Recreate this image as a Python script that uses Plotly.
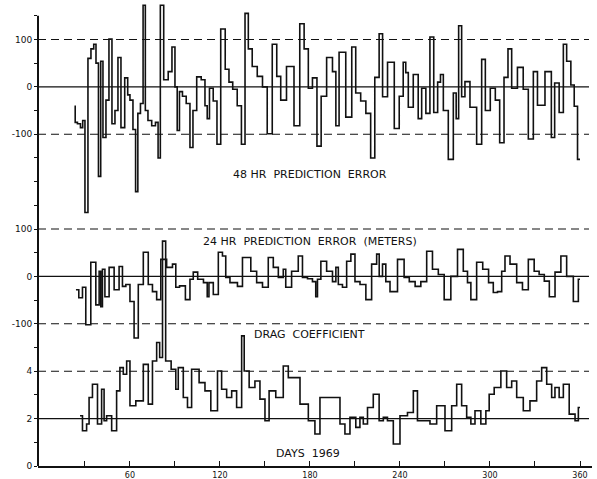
import plotly.graph_objects as go

# 48 hr prediction error (meters) by day of 1969
err48_day = [23, 24, 26, 28, 29, 31, 33, 35, 36.7, 38, 40, 41, 43, 45, 47, 49, 51, 53, 55, 58, 59, 61, 63, 64.5,
             66, 68, 69.5, 71, 73, 76, 78, 79.5, 81, 84, 87, 89, 91, 92, 94, 96, 99, 101, 103, 106, 109, 111, 112,
             114, 117, 119, 122, 125, 127, 130, 133, 135.6, 137.8, 140, 143, 146.7, 150, 153, 156.7, 159, 162,
             166.7, 172, 174.4, 177.8, 180, 183.3, 186, 188.9, 193.3, 196.7, 197.8, 201, 206.7, 209, 212, 215.6,
             218.9, 222, 224.4, 227.8, 229, 234.4, 238, 241, 243.3, 244.4, 246.7, 251, 253.3, 255.6, 258.9, 261,
             264, 266.2, 267.8, 270, 274.4, 276.7, 278.2, 280, 282.2, 284.4, 288.9, 293.3, 295.6, 298.2, 302.2,
             304.9, 308, 310.7, 313.3, 315.6, 321, 323.3, 327.8, 330, 333.3, 340, 341.8, 344.4, 347.8, 350, 352.2,
             355.6, 356.7, 360]
err48_val = [-41, -75, -78, -86, -71, -265, 60, 80, 90, 50, -189, 54, -107, -28, 101, -78, -50, 62, -86, 19, -17,
             -28, -90, -221, -56, -35, 172, -50, -71, -82, -75, -150, 172, 15, 32, 84, 0, -92, -10, -20, -35, -128,
             -50, 21, 15, -40, -67, -3, -30, -121, 122, 37, 10, -5, -40, -121, 155, 80, 43, 22, 0, -99, 90, 22,
             -28, 43, -82, 133, 80, -3, 19, -125, -20, 62, 32, -82, 73, -64, 84, -13, -30, -56, -150, 20, 112, -21,
             52, -88, -20, 52, 30, -43, 26, -67, -3, -56, 105, -54, 10, 26, -50, -153, -13, -67, 129, -21, 11, -43,
             -121, 58, -50, -3, -28, -118, 20, 80, -3, 41, -5, -110, 32, -39, 32, -107, 8, -54, 90, 54, 4, -41,
             -153, -35]

# 24 hr prediction error (meters)
err24_day = [24, 27.8, 28.9, 32.2, 35.6, 38.9, 40, 41.1, 42.2, 44.4, 47.8, 51.1, 54.4, 55.6, 58.9, 61.1, 64.4, 66.7,
             71.1, 73.3, 76.7, 78.9, 82.2, 86.7, 90, 91.1, 95, 98.9, 101.1, 103.3, 107, 111, 112, 113.3, 117.8, 120,
             123.3, 124.4, 128.9, 134.4, 135.6, 138.9, 142.2, 146.7, 150, 154.4, 156.7, 161.1, 163.3, 164.4, 171.1,
             173.3, 176.7, 180, 183.3, 184.4, 185.6, 188.9, 193.3, 196.7, 197.8, 200, 203.3, 205.6, 208.9, 211.1,
             215.6, 218.9, 223.3, 225.6, 226.7, 230, 231.1, 235.6, 241.1, 244.4, 248, 252.2, 255.6, 260, 263.3,
             267.8, 271.1, 276.7, 280, 284.4, 285.6, 288.9, 293.3, 297, 301.1, 303.3, 306.7, 308.9, 311.1, 315.6,
             320, 323.3, 327.8, 331.1, 334.4, 338, 341.1, 345.6, 348.9, 353.3, 357.8, 360]
err24_val = [-28, -45, -23, -102, 30, -60, 11, -64, 15, -43, 19, -28, 21, -21, -17, -53, -130, -17, 51, -17, -32,
             -49, 36, 19, 26, -23, -20, -49, -6, 9, -6, -13, -43, -13, -38, 51, 43, -2, -13, -21, 40, 40, 11, -13,
             -23, 40, 19, -2, 15, -23, 11, 43, -2, -5, -11, -43, -6, 32, 11, -11, 19, -17, -23, 32, 47, -11, -17,
             -49, 26, 47, 0, 26, -11, -32, 36, -2, -11, -21, -11, 53, 15, 4, -49, 0, 57, 11, -13, -49, 30, 15, -13,
             -34, -32, 11, 43, 26, -13, -28, 36, 11, 4, -10, -43, 9, 43, 0, -53, -6]

# Drag coefficient
drag_day = [26.7, 30, 32.2, 33.3, 36.7, 40, 42.2, 43.3, 45.6, 50, 52.2, 54.4, 56.7, 58.9, 61.1, 66.7, 71.1, 73.3,
            76.7, 78.9, 80.7, 82.7, 84.9, 90, 91.1, 93.3, 97.8, 98.9, 103.3, 108.9, 111.1, 116.7, 120, 122.2, 126.7,
            128.9, 133.3, 135.6, 136.7, 142.2, 144.4, 148.9, 151.1, 154.4, 160, 164.4, 166.7, 171.1, 175.6, 182.2,
            184.4, 188.9, 197.8, 202.2, 204.4, 208.9, 212.2, 214.4, 216.7, 220, 224.4, 227.8, 230, 233.3, 237.8,
            242.2, 247.8, 250, 253.3, 257.8, 262.2, 266.7, 273.3, 275.6, 280, 282.2, 286.7, 287.8, 292.2, 295.6,
            298.9, 300, 305.6, 308.9, 313.3, 315.6, 320, 324.4, 328.9, 333.3, 335.6, 340, 342.2, 344.4, 347.8, 350,
            355.6, 357.8, 360]
drag_val = [2.12, 1.49, 1.77, 2.89, 3.45, 1.77, 3.24, 1.91, 2.12, 1.49, 3.17, 4.15, 3.87, 4.43, 2.54, 2.75, 4.29,
            2.61, 4.43, 5.21, 4.58, 9.49, 4.43, 4.08, 3.24, 4.15, 2.89, 2.47, 4.08, 3.52, 3.17, 2.33, 4.01, 3.24,
            2.89, 3.17, 2.47, 5.49, 4.01, 3.31, 3.59, 2.82, 1.91, 3.17, 2.89, 4.22, 3.73, 3.73, 2.61, 1.91, 1.35,
            2.89, 2.89, 1.77, 1.35, 2.05, 1.63, 2.05, 1.77, 2.47, 3.03, 1.91, 2.05, 1.91, 0.93, 2.12, 2.26, 3.17,
            1.91, 1.91, 1.77, 2.54, 1.49, 2.54, 3.45, 2.54, 2.05, 1.77, 2.33, 1.77, 2.33, 3.03, 3.31, 4.01, 3.31,
            3.59, 2.89, 2.33, 2.75, 3.59, 4.15, 3.45, 2.89, 3.31, 2.89, 3.45, 2.19, 1.91, 2.47]

# Stacked panels share one vertical axis: each panel has its own baseline and scale
err48_base, err48_scale = 8.0, 0.01
err24_base, err24_scale = 4.0, 0.01
drag_base, drag_scale = 0.0, 0.5

y_axis_top = 9.5
y_tick_pos = [0, 1, 2, 3, 4, 5, 6, 7, 8, 9]
y_tick_text = ["0", "2", "4", "-100", "0", "100", "", "-100", "0", "100"]
y_minor_pos = [0.5, 1.5, 2.5, 3.5, 4.5, 5.5, 6.5, 7.5, 8.5, 9.5]
x_tick_pos = [30, 60, 90, 120, 150, 180, 210, 240, 270, 300, 330, 360]
x_tick_text = ["", "60", "", "120", "", "180", "", "240", "", "300", "", "360"]

ink = "#111111"

fig = go.Figure()
for days, vals, base, scale in [
    (err48_day, err48_val, err48_base, err48_scale),
    (err24_day, err24_val, err24_base, err24_scale),
    (drag_day, drag_val, drag_base, drag_scale),
]:
    fig.add_trace(go.Scatter(
        x=days, y=[base + v * scale for v in vals], mode="lines",
        line=dict(color=ink, width=1.6, shape="hvh"), hoverinfo="skip", showlegend=False,
    ))

# Reference lines: solid zero / mean lines, dashed +-100 and drag 4 lines
ref_lines = [(9, "8px,5px"), (8, "solid"), (7, "8px,5px"), (5, "8px,5px"), (4, "solid"),
             (3, "8px,5px"), (2, "8px,5px"), (1, "solid")]
for yv, dash in ref_lines:
    fig.add_shape(type="line", xref="x", yref="y", x0=-1.3, x1=366, y0=yv, y1=yv,
                  line=dict(color=ink, width=1.1, dash=dash), layer="below")

# Vertical axis line stops short of the top so the tallest peaks stand above it
fig.add_shape(type="line", xref="paper", yref="y", x0=0, x1=0, y0=0, y1=y_axis_top,
              line=dict(color=ink, width=2))

labels = [("48 HR  PREDICTION  ERROR", 180, 6.16),
          ("24 HR  PREDICTION  ERROR  (METERS)", 180, 4.74),
          ("DRAG  COEFFICIENT", 180, 2.77),
          ("DAYS  1969", 179, 0.27)]
for txt, xv, yv in labels:
    fig.add_annotation(x=xv, y=yv, text=txt, showarrow=False, xref="x", yref="y",
                       font=dict(family="DejaVu Sans", size=11, color=ink))

fig.update_xaxes(range=[-1.3, 368], showgrid=False, zeroline=False, showline=True, linecolor=ink,
                 linewidth=2, ticks="inside", ticklen=5, tickwidth=1.2, tickcolor=ink,
                 tickvals=x_tick_pos, ticktext=x_tick_text, automargin=False,
                 tickfont=dict(family="DejaVu Sans", size=8, color=ink))
fig.update_yaxes(range=[0, 9.79], showgrid=False, zeroline=False, showline=False,
                 ticks="outside", ticklen=3, tickwidth=1.2, tickcolor=ink,
                 tickvals=y_tick_pos, ticktext=y_tick_text, automargin=False,
                 minor=dict(tickvals=y_minor_pos, ticks="outside", ticklen=3, tickcolor=ink),
                 tickfont=dict(family="DejaVu Sans", size=9, color=ink))
fig.update_layout(width=597, height=479, margin=dict(l=38, r=5, t=2, b=13),
                  paper_bgcolor="white", plot_bgcolor="white")
fig.write_html("out.html")
